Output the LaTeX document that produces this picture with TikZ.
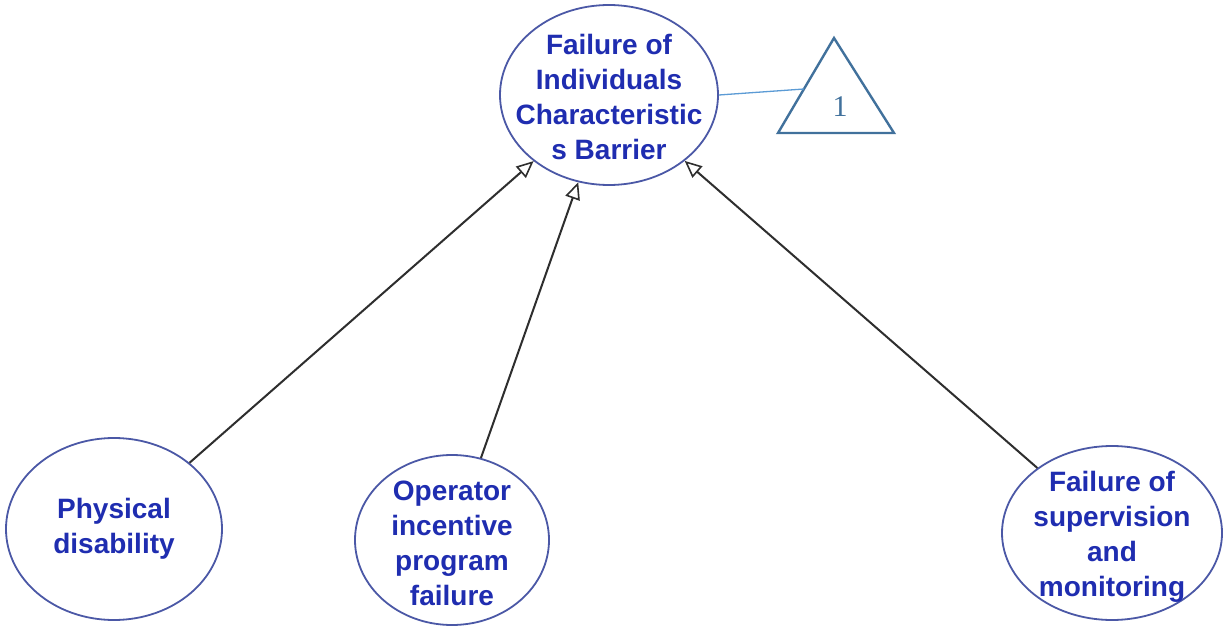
\documentclass[tikz,border=0pt]{standalone}
\usepackage{fontspec}
\setmainfont{Liberation Sans}
\newfontfamily\numfont{Liberation Serif}
\usetikzlibrary{shapes.geometric,arrows.meta}
\definecolor{txtblue}{HTML}{1F2DB0}
\definecolor{rimblue}{HTML}{4B58A6}
\definecolor{triblue}{HTML}{41719C}
\definecolor{linkblue}{HTML}{5B9BD5}
\definecolor{edge}{HTML}{2E2E2E}
\tikzset{
  bubble/.style={ellipse, draw=rimblue, line width=1.8pt, fill=white, inner sep=0pt},
  caption/.style={align=center, text=txtblue, font=\fontsize{28}{35}\selectfont\bfseries},
  cause/.style={draw=edge, line width=2pt, -{Triangle[open, length=17pt, width=15pt, line width=1.6pt]}},
  tri/.style={draw=triblue, line width=2.4pt, line join=miter}
}
\begin{document}
\begin{tikzpicture}[x=1pt, y=-1pt]
\useasboundingbox[fill=white] (0,0) rectangle (1223,631);

% event ellipses
\node[bubble, minimum width=218pt, minimum height=180pt] (top) at (609,95) {};
\node[bubble, minimum width=216pt, minimum height=182pt] (phys) at (114,529) {};
\node[bubble, minimum width=194pt, minimum height=170pt] (oper) at (452,540) {};
\node[bubble, minimum width=220pt, minimum height=174pt] (sup) at (1112,533) {};

\node[caption] (topT) at (609,97) {Failure of\\Individuals\\Characteristic\\s Barrier};
\node[caption] (physT) at (114,529) {Physical\\disability};
\node[caption] (operT) at (452,543) {Operator\\incentive\\program\\failure};
\node[caption] (supT) at (1112,537) {Failure of\\supervision\\and\\monitoring};

% causal links
\draw[cause] (phys) -- (top);
\draw[cause] (oper) -- (top);
\draw[cause] (sup) -- (top);

% transfer triangle
\coordinate (apex) at (834,38);
\coordinate (bl) at (778,133);
\coordinate (br) at (894,133);
\draw[tri] (apex) -- (bl) -- (br) -- cycle;
\node[text=triblue, font=\numfont\fontsize{30}{34}\selectfont] (num) at (840,107) {1};
\coordinate (tin) at (804,89);
\draw[linkblue, line width=1.3pt] (top.east) -- (tin);
\end{tikzpicture}
\end{document}
